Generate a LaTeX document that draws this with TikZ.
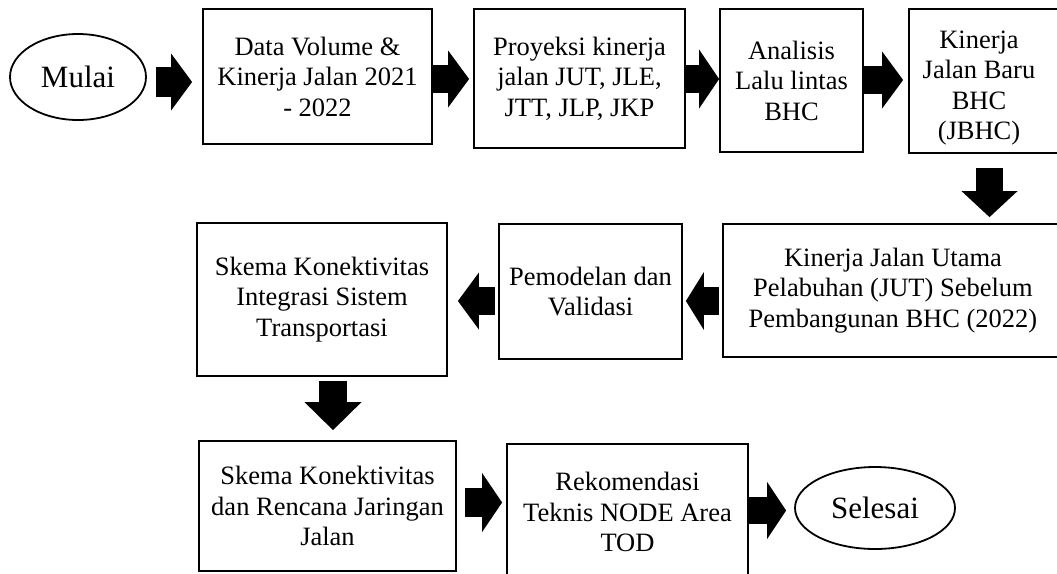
\documentclass[tikz,border=0pt]{standalone}
\usepackage{fontspec}
\setmainfont{Liberation Serif}
\usetikzlibrary{shapes.geometric,arrows.meta}
\begin{document}
\begin{tikzpicture}[x=1pt,y=-1pt,
  box/.style={draw, line width=1.8pt, rectangle, inner sep=0pt, align=center,
    font=\fontsize{26.5}{30.5}\selectfont},
  lbl/.style={align=center, inner sep=0pt, font=\fontsize{26.5}{30.5}\selectfont},
  oval/.style={draw, line width=1.8pt, ellipse, inner sep=0pt,
    font=\fontsize{31}{36}\selectfont},
  fat/.style={draw=black, line width=28pt,
    -{Triangle[width=57pt,length=21pt,line width=0pt]}},
  fatdown/.style={draw=black, line width=27pt,
    -{Triangle[width=56pt,length=26pt,line width=0pt]}}]
\useasboundingbox (0,0) rectangle (1057,573);
\clip (0,0) rectangle (1057,573);

\node[oval, minimum width=136pt, minimum height=86pt] (m) at (78,77) {Mulai};
\node[box, minimum width=229pt, minimum height=135pt] (b1) at (317.5,76.5)
  {Data Volume \&\\Kinerja Jalan 2021\\- 2022};
\node[box, minimum width=211pt, minimum height=139pt] (b2) at (579.5,78.5)
  {Proyeksi kinerja\\jalan JUT, JLE,\\JTT, JLP, JKP};
\node[box, minimum width=143pt, minimum height=143pt] (b3) at (791.5,80.5)
  {Analisis\\Lalu lintas\\BHC};
\node[box, minimum width=156pt, minimum height=144pt,
  label={[lbl, xshift=-8pt, yshift=-7pt]center:{Kinerja\\Jalan Baru\\BHC\\(JBHC)}}]
  (b4) at (987,81) {};
\node[box, minimum width=340pt, minimum height=133pt] (b5) at (893,290.5)
  {Kinerja Jalan Utama\\Pelabuhan (JUT) Sebelum\\Pembangunan BHC (2022)};
\node[box, minimum width=183pt, minimum height=135pt] (b6) at (590.5,291.5)
  {Pemodelan dan\\Validasi};
\node[box, minimum width=250pt, minimum height=153pt] (b7) at (322,299.5)
  {Skema Konektivitas\\Integrasi Sistem\\Transportasi};
\node[box, minimum width=257pt, minimum height=130pt] (b8) at (327.5,506)
  {Skema Konektivitas\\dan Rencana Jaringan\\Jalan};
\node[box, minimum width=241pt, minimum height=136pt] (b9) at (627.5,512)
  {Rekomendasi\\Teknis NODE Area\\TOD};
\node[oval, minimum width=160pt, minimum height=82pt] (s) at (875,508) {Selesai};

\draw[fat, line width=30pt, shorten <=9pt, shorten >=10pt] (m.east |- 0,82) -- (b1.west |- 0,82);
\draw[fat, shorten >=4pt] (b1.east |- 0,79) -- (b2.west |- 0,79);
\draw[fat, -{Triangle[width=59pt,length=20pt,line width=0pt]}] (b2.east |- 0,79) -- (b3.west |- 0,79);
\draw[fat, shorten >=5pt] (b3.east |- 0,80) -- (b4.west |- 0,80);
\draw[fatdown, shorten <=14pt, shorten >=6pt] (b4.south -| 989.5,0) -- (b5.north -| 989.5,0);
\draw[fat, shorten <=3pt, shorten >=3pt, -{Triangle[width=58pt,length=18pt,line width=0pt]}] (b5.west |- 0,301) -- (b6.east |- 0,301);
\draw[fat, shorten <=3pt, shorten >=10pt] (b6.west |- 0,301) -- (b7.east |- 0,301);
\draw[fatdown, line width=28pt, -{Triangle[width=57pt,length=28pt,line width=0pt]}, shorten <=4pt, shorten >=10pt] (b7.south -| 333,0) -- (b8.north -| 333,0);
\draw[fat, line width=29pt, shorten <=8pt, shorten >=4pt, -{Triangle[width=59pt,length=20pt,line width=0pt]}] (b8.east |- 0,502.5) -- (b9.west |- 0,502.5);
\draw[fat, line width=27pt, shorten >=8pt, -{Triangle[width=57pt,length=19pt,line width=0pt]}] (b9.east |- 0,510.5) -- (s.west |- 0,510.5);
\end{tikzpicture}
\end{document}
